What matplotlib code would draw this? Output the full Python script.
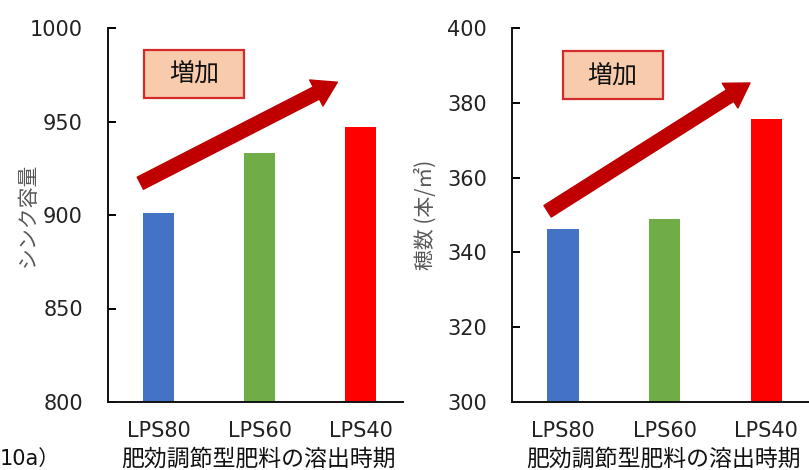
import matplotlib
matplotlib.use("Agg")
import matplotlib.pyplot as plt
from matplotlib.patches import FancyArrowPatch, ArrowStyle, Rectangle

plt.rcParams['font.family'] = ['DejaVu Sans', 'Noto Sans CJK JP']

categories = ["LPS80", "LPS60", "LPS40"]
sink_capacity = [901, 933, 947]
panicle_count = [346.3, 348.9, 375.6]
bar_colors = ["#4472C4", "#70AD47", "#FF0000"]
xlabel_text = "肥効調節型肥料の溶出時期"

W, H = 809, 470
fig = plt.figure(figsize=(W / 100, H / 100), dpi=100)
JP = ['Noto Sans CJK JP', 'DejaVu Sans']


def px_axes(x0, y0, x1, y1):
    return fig.add_axes([x0 / W, 1 - y1 / H, (x1 - x0) / W, (y1 - y0) / H])


def style_axes(ax, ylim, yticks, ylabel):
    ax.set_xlim(-0.5, 2.42)
    ax.set_ylim(*ylim)
    ax.set_yticks(yticks)
    ax.set_xticks(range(len(categories)))
    ax.set_xticklabels(categories, fontsize=15, color="#222222")
    for s in ("top", "right"):
        ax.spines[s].set_visible(False)
    for s in ("left", "bottom"):
        ax.spines[s].set_linewidth(1.4)
        ax.spines[s].set_color("#111111")
    ax.tick_params(axis="y", direction="in", length=6, width=1.4,
                   pad=18, labelsize=15, labelcolor="#222222")
    ax.tick_params(axis="x", length=0, pad=14)
    ax.set_ylabel(ylabel, fontsize=15, color="#595959", family=JP)
    ax.set_xlabel(xlabel_text, fontsize=16.5, color="#111111",
                  family=JP, labelpad=0)


def add_trend(ax, box, start, end):
    x0, y0, x1, y1 = box
    ax.add_patch(Rectangle((x0, y0), x1 - x0, y1 - y0, transform=ax.transAxes,
                           fc="#F8CBAD", ec="#D42A2A", lw=1.6, clip_on=False,
                           zorder=3))
    ax.text((x0 + x1) / 2, (y0 + y1) / 2, "増加", transform=ax.transAxes,
            ha="center", va="center", fontsize=18, family=['Noto Sans CJK JP'],
            color="#111111", zorder=4)
    arrow = FancyArrowPatch(start, end, transform=ax.transData,
                            arrowstyle=ArrowStyle.Simple(head_length=17,
                                                         head_width=21,
                                                         tail_width=9.8),
                            shrinkA=0, shrinkB=0, color="#C00000",
                            mutation_scale=1, clip_on=False, zorder=3)
    ax.add_patch(arrow)


ax1 = px_axes(108, 28, 403, 402)
ax1.bar(range(len(categories)), sink_capacity, width=0.31, color=bar_colors)
style_axes(ax1, (800, 1000), [800, 850, 900, 950, 1000], "シンク容量")
ax1.yaxis.set_label_coords(-0.234, 0.5)
ax1.xaxis.set_label_coords(0.51, -0.122)
add_trend(ax1, (0.122, 0.814, 0.461, 0.941), (-0.18, 917), (1.77, 971))

ax2 = px_axes(512, 28, 809, 402)
ax2.bar(range(len(categories)), panicle_count, width=0.31, color=bar_colors)
style_axes(ax2, (300, 400), [300, 320, 340, 360, 380, 400], "穂数 (本/㎡)")
ax2.yaxis.set_label_coords(-0.253, 0.5)
ax2.xaxis.set_label_coords(0.51, -0.122)
add_trend(ax2, (0.171, 0.809, 0.507, 0.939), (-0.15, 351), (1.84, 385.3))

fig.text(0 / W, 1 - 459 / H, "10a）", fontsize=15, va="center", ha="left",
         family=['DejaVu Sans', 'Noto Sans CJK JP'], color="#111111")

fig.savefig("out.png", dpi=100, facecolor="white")
